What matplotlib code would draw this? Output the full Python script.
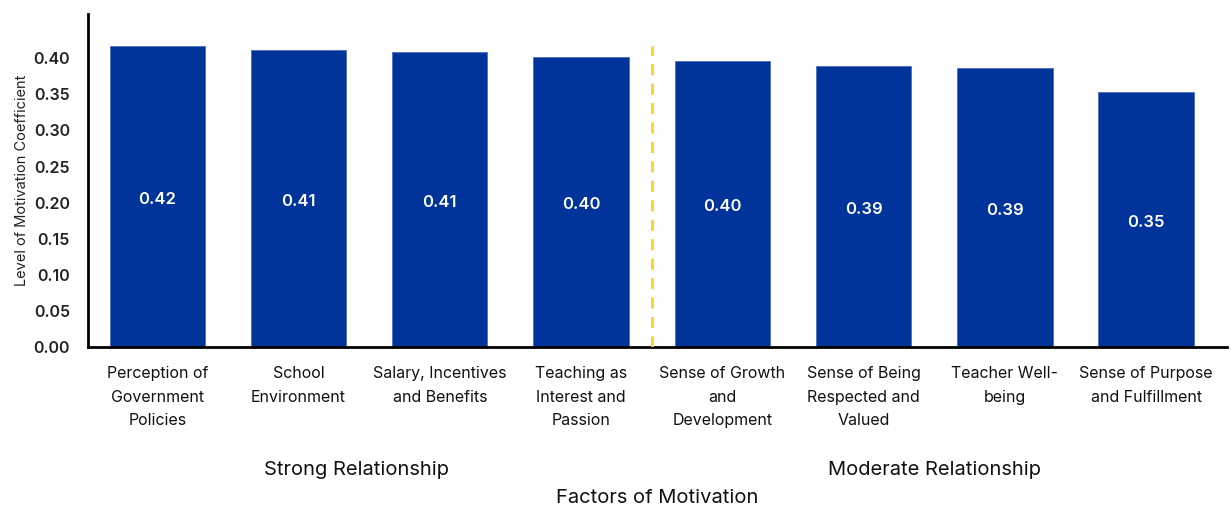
import matplotlib
matplotlib.use("Agg")
import matplotlib.pyplot as plt
import matplotlib.transforms as mtransforms

# Motivation factors and their correlation coefficients
factors = [
    "Perception of\nGovernment\nPolicies",
    "School\nEnvironment",
    "Salary, Incentives\nand Benefits",
    "Teaching as\nInterest and\nPassion",
    "Sense of Growth\nand\nDevelopment",
    "Sense of Being\nRespected and\nValued",
    "Teacher Well-\nbeing",
    "Sense of Purpose\nand Fulfillment",
]
coefficients = [0.417, 0.411, 0.409, 0.402, 0.396, 0.389, 0.386, 0.353]
groups = ["Strong Relationship", "Moderate Relationship"]
group_centers = [1.41, 5.5]
yticks = [0.00, 0.05, 0.10, 0.15, 0.20, 0.25, 0.30, 0.35, 0.40]

plt.rcParams["font.family"] = ["Inter", "DejaVu Sans"]

fig = plt.figure(figsize=(12.31, 5.08), dpi=100)
ax = fig.add_axes([0.0715, 0.317, 0.925, 0.655])

bar_color = "#00349A"
x = list(range(len(factors)))
bars = ax.bar(x, coefficients, width=0.675, color=bar_color,
              edgecolor="#4f6fc0", linewidth=0.6, zorder=2)

for xi, v in zip(x, coefficients):
    ax.text(xi, v / 2 - 0.004, f"{v:.2f}", ha="center", va="center",
            color="white", fontsize=12, fontweight="semibold")

# Divider between strong and moderate groups
ax.plot([3.5, 3.5], [0, coefficients[0]], color="#FFD21F", linewidth=2,
        linestyle=(0, (4, 3)), zorder=3)

ax.set_xlim(-0.49, 7.57)
ax.set_ylim(0, 0.461)
ax.set_yticks(yticks)
ax.set_yticklabels([f"{t:.2f}" for t in yticks], fontsize=11.5,
                   fontweight="semibold", color="#222222")
ax.set_xticks(x)
ax.set_xticklabels(factors, fontsize=11.5, color="#111111", linespacing=1.7)
ax.tick_params(axis="both", length=0)
ax.tick_params(axis="x", pad=14)
ax.tick_params(axis="y", pad=13)

for side in ("top", "right"):
    ax.spines[side].set_visible(False)
ax.spines["left"].set_linewidth(2)
ax.spines["bottom"].set_linewidth(2)

ax.set_ylabel("Level of Motivation Coefficient", fontsize=10.5, color="#222222",
              labelpad=3)

trans = mtransforms.blended_transform_factory(ax.transData, ax.transAxes)
for name, cx in zip(groups, group_centers):
    ax.text(cx, -0.37, name, transform=trans, ha="center", va="center",
            fontsize=14.5, color="#111111")

ax.text(0.5, -0.455, "Factors of Motivation", transform=ax.transAxes,
        ha="center", va="center", fontsize=14.5, color="#111111")

fig.savefig("out.png", dpi=100)
